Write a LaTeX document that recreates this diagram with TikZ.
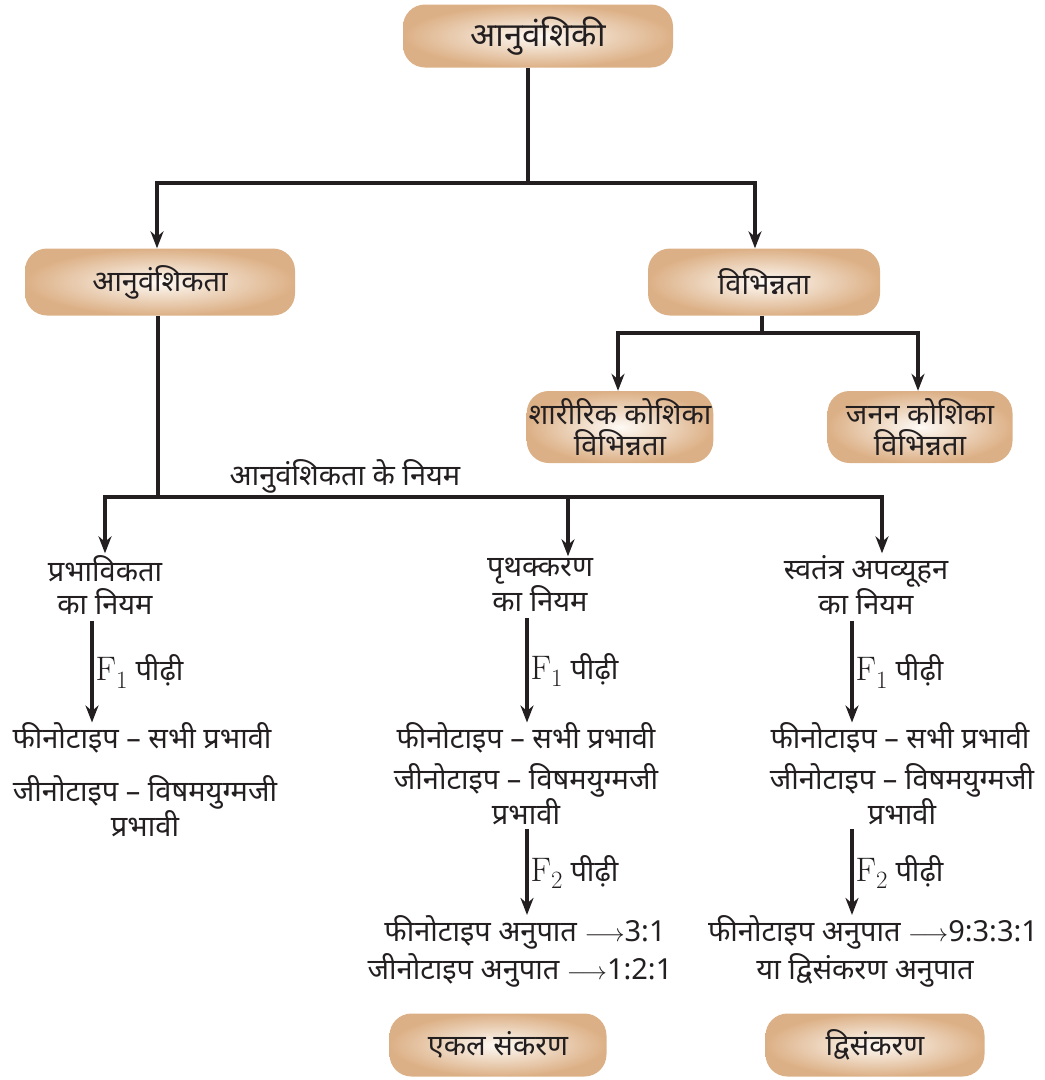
\documentclass[tikz,border=0pt]{standalone}
\usepackage{fontspec}
\newfontfamily\hindi[Script=Devanagari]{Noto Sans}
\usetikzlibrary{arrows.meta, positioning}
\definecolor{boxout}{RGB}{220,176,134}
\definecolor{boxin}{RGB}{254,250,245}
\definecolor{mydark}{RGB}{35,31,32}
\newcommand{\gen}[1]{{\fontsize{34}{34}\selectfont$\mathrm{F}_{#1}$}}
\tikzset{
  hbox/.style={rectangle, rounded corners=22pt, inner color=boxin, outer color=boxout,
    align=center, font=\hindi\fontsize{29}{31}\selectfont, text=mydark, inner sep=2pt},
  txt/.style={align=center, font=\hindi\fontsize{29}{33}\selectfont, text=mydark, inner sep=2pt},
  arrow/.style={-{Stealth[length=17pt,width=13pt]}, line width=3.2pt, color=mydark},
  line/.style={line width=3.2pt, color=mydark}
}
\begin{document}
\begin{tikzpicture}[x=1pt, y=-1pt]
  \useasboundingbox (0,0) rectangle (1045,1080);

  % Boxes
  \node[hbox, minimum width=270pt, minimum height=63pt, font=\hindi\fontsize{33}{33}\selectfont] (root) at (538,36) {आनुवंशिकी};
  \node[hbox, minimum width=270pt, minimum height=67pt] (here) at (160,282) {आनुवंशिकता};
  \node[hbox, minimum width=232pt, minimum height=67pt] (vari) at (764,282) {विभिन्नता};
  \node[hbox, minimum width=185pt, minimum height=72pt] (soma) at (620,427) {शारीरिक कोशिका\\विभिन्नता};
  \node[hbox, minimum width=185pt, minimum height=72pt] (germ) at (920,427) {जनन कोशिका\\विभिन्नता};

  % Laws
  \node[txt] (lawlbl) at (345,476) {आनुवंशिकता के नियम};
  \node[txt] (dom) at (105,585) {प्रभाविकता\\का नियम};
  \node[txt] (seg) at (540,585) {पृथक्करण\\का नियम};
  \node[txt] (ind) at (866,585) {स्वतंत्र अपव्यूहन\\का नियम};

  % F1 results
  \node[txt] (domP) at (142,738) {फीनोटाइप – सभी प्रभावी};
  \node[txt] (domG) at (145,806) {जीनोटाइप – विषमयुग्मजी\\प्रभावी};
  \node[txt] (segP) at (526,738) {फीनोटाइप – सभी प्रभावी};
  \node[txt] (segG) at (526,794) {जीनोटाइप – विषमयुग्मजी\\प्रभावी};
  \node[txt] (indP) at (900,738) {फीनोटाइप – सभी प्रभावी};
  \node[txt] (indG) at (902,794) {जीनोटाइप – विषमयुग्मजी\\प्रभावी};

  % F2 results
  \node[txt] (segR1) at (525,932) {फीनोटाइप अनुपात $\longrightarrow$3:1};
  \node[txt] (segR2) at (520,970) {जीनोटाइप अनुपात $\longrightarrow$1:2:1};
  \node[txt] (indR1) at (873,932) {फीनोटाइप अनुपात $\longrightarrow$9:3:3:1};
  \node[txt] (indR2) at (865,970) {या द्विसंकरण अनुपात};
  \node[hbox, minimum width=217pt, minimum height=63pt] (mono) at (498,1045) {एकल संकरण};
  \node[hbox, minimum width=219pt, minimum height=63pt] (dihy) at (875,1045) {द्विसंकरण};

  % Connections
  \coordinate (j1) at (528,183);
  \draw[line] (root.south -| j1) -- (j1);
  \draw[arrow] (j1) -| ([xshift=-3pt]here.north);
  \draw[arrow] (j1) -| ([xshift=-9pt]vari.north);

  \coordinate (j2) at (762,333);
  \draw[line] (vari.south -| j2) -- (j2);
  \draw[arrow] (j2) -| ([xshift=-2pt]soma.north);
  \draw[arrow] (j2) -| ([xshift=-2pt]germ.north);

  \coordinate (j3) at (158,497);
  \draw[line] (here.south -| j3) -- (j3);
  \draw[arrow] (j3) -| (dom.north);
  \draw[arrow] (j3) -| ([xshift=28pt]seg.north);
  \draw[arrow] (j3) -| ([xshift=16pt]ind.north);

  % Generations
  \draw[arrow] ([xshift=-13pt,yshift=-4pt]dom.south) -- ([xshift=-13pt,yshift=-2pt]dom.south |- domP.north)
    node[midway, right, txt] {\gen{1} पीढ़ी};
  \draw[arrow] ([xshift=-13pt,yshift=-4pt]seg.south) -- ([xshift=-13pt,yshift=-2pt]seg.south |- segP.north)
    node[midway, right, txt] {\gen{1} पीढ़ी};
  \draw[arrow] ([xshift=-14pt,yshift=-4pt]ind.south) -- ([xshift=-14pt,yshift=-2pt]ind.south |- indP.north)
    node[midway, right, txt] {\gen{1} पीढ़ी};
  \draw[arrow] ([xshift=1pt,yshift=-2pt]segG.south) -- ([xshift=1pt,yshift=-2pt]segG.south |- segR1.north)
    node[midway, right, txt] {\gen{2} पीढ़ी};
  \draw[arrow] ([xshift=-50pt,yshift=-2pt]indG.south) -- ([xshift=-50pt,yshift=-2pt]indG.south |- indR1.north)
    node[midway, right, txt] {\gen{2} पीढ़ी};
\end{tikzpicture}
\end{document}
